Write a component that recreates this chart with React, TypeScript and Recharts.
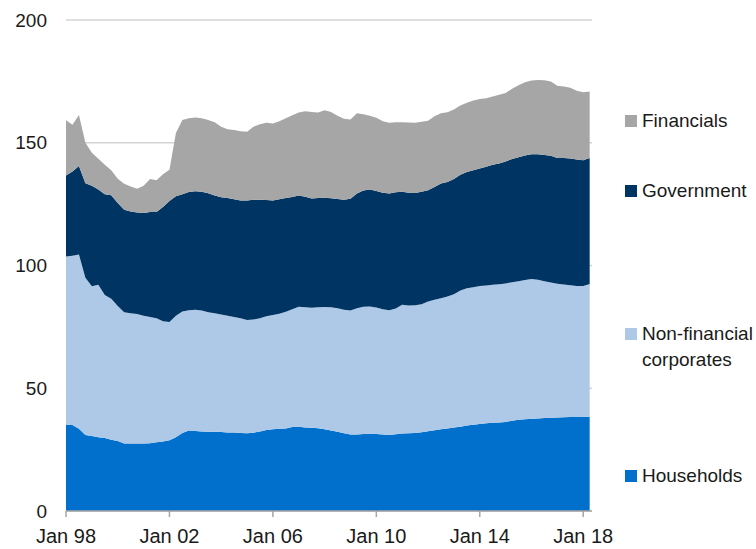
import React from "react";
import { AreaChart, Area, XAxis, YAxis, CartesianGrid } from "recharts";

// quarterly, Q1 1998 .. Q2 2018
const startYear = 1998;

const households = [
  35, 35, 33.5, 31, 30.5, 30, 29.7, 29, 28.5, 27.5,
  27.5, 27.5, 27.5, 27.6, 28, 28.3, 28.8, 30, 31.8, 32.8,
  32.6, 32.4, 32.3, 32.3, 32.2, 32, 32, 31.8, 31.7, 31.9,
  32.4, 33, 33.3, 33.5, 33.6, 34.2, 34.3, 34, 33.9, 33.7,
  33.3, 32.8, 32.3, 31.7, 31.2, 31.2, 31.4, 31.5, 31.4, 31.2,
  31, 31.3, 31.6, 31.7, 31.8, 32.1, 32.5, 32.9, 33.3, 33.6,
  34, 34.3, 34.8, 35.1, 35.4, 35.7, 35.9, 36.1, 36.3, 36.8,
  37.2, 37.4, 37.6, 37.7, 37.9, 38, 38.1, 38.2, 38.3, 38.3,
  38.3, 38.4,
];

const nonFinancial = [
  68.7, 69, 71, 64, 61, 62.2, 58.3, 57.5, 55, 53.5,
  53, 52.7, 52, 51.4, 50.5, 49, 48.2, 49.5, 49.5, 49,
  49.4, 49.3, 48.7, 48.2, 47.8, 47.5, 47, 46.7, 46.1, 46.1,
  46.1, 46.3, 46.5, 46.8, 47.6, 48, 48.9, 49, 48.9, 49.3,
  49.8, 50.2, 50.3, 50.3, 50.5, 51.4, 51.8, 51.8, 51.5, 51,
  50.8, 51.2, 52.4, 52, 52, 52.1, 52.8, 53.1, 53.4, 53.8,
  54.3, 55.5, 55.9, 56, 56.2, 56.2, 56.3, 56.3, 56.4, 56.4,
  56.4, 56.7, 56.9, 56.5, 55.7, 55.1, 54.5, 54.1, 53.7, 53.4,
  53.4, 54.1,
];

const government = [
  33, 34.3, 36, 38.5, 41, 38.8, 41, 42.1, 42, 41.7,
  41.5, 41.4, 41.9, 42.8, 43.3, 46.5, 49.3, 48.7, 47.7, 48.1,
  48.2, 48.3, 48.4, 48, 47.8, 48, 48, 48, 48.7, 48.8,
  48.3, 47.4, 46.7, 46.7, 46.3, 45.7, 45.3, 45, 44.5, 44.5,
  44.5, 44.4, 44.5, 44.8, 45.5, 46.7, 47.4, 47.7, 47.4, 47.4,
  47.5, 47.3, 46, 45.9, 45.7, 45.8, 45.4, 46, 46.7, 46.6,
  46.9, 47.2, 47.4, 47.7, 47.9, 48.3, 48.8, 49.1, 49.7, 50.2,
  50.5, 50.7, 50.8, 51.1, 51.4, 51.6, 51.2, 51.5, 51.6, 51.5,
  51.2, 51.3,
];

const financials = [
  22.5, 19, 20.8, 16.5, 13.4, 12.5, 12, 10.2, 9.8, 10.6,
  10.2, 9.7, 11.1, 13.4, 12.9, 13.4, 12.7, 25.8, 30.3, 30.1,
  30.1, 30, 29.9, 29.8, 28.7, 28, 28.2, 28.2, 28, 29.7,
  30.7, 31.4, 31.3, 31.8, 32.5, 33.3, 33.8, 34.8, 35.2, 34.8,
  35.6, 35.1, 33.9, 33, 32.3, 32.7, 31, 30, 29.9, 29.2,
  28.8, 28.5, 28.3, 28.6, 28.6, 28.6, 28.3, 28.8, 28.6, 28.4,
  28.3, 28.2, 28.2, 28.4, 28.3, 27.9, 27.8, 28.1, 27.9, 28.6,
  29.3, 29.8, 30.1, 30.3, 30.5, 30.2, 29.4, 29.1, 28.8, 28,
  27.7, 27.1,
];

const xTicks = [1998, 2002, 2006, 2010, 2014, 2018];
const yTicks = [0, 50, 100, 150, 200];

const COLORS = {
  households: "#0070cc",
  nonFinancial: "#aec8e8",
  government: "#003462",
  financials: "#a6a6a6",
};

const data = households.map((h, i) => ({
  t: startYear + i / 4,
  households: h,
  nonFinancial: nonFinancial[i],
  government: government[i],
  financials: financials[i],
}));

const FONT = "'Liberation Sans', Arial, Helvetica, sans-serif";

const legendItems = [
  { key: "financials", lines: ["Financials"], top: 108 },
  { key: "government", lines: ["Government"], top: 178 },
  { key: "nonFinancial", lines: ["Non-financial", "corporates"], top: 321 },
  { key: "households", lines: ["Households"], top: 463 },
];

export default function App() {
  return (
    <div style={{ position: "relative", width: 756, height: 549, fontFamily: FONT }}>
      <style>{"body { margin: 0; }"}</style>
      <div style={{ position: "absolute", left: 8, top: 8 }}>
        <AreaChart
          width={740}
          height={541}
          data={data}
          margin={{ top: 12, right: 156, left: 0, bottom: 0 }}
          style={{ fontFamily: FONT }}
        >
          <CartesianGrid vertical={false} stroke="#d4d4d4" strokeWidth={1.5} />
          <XAxis
            dataKey="t"
            type="number"
            domain={[1998, 2018.34]}
            ticks={xTicks}
            interval={0}
            height={38}
            tickFormatter={(v: number) => "Jan " + String(v).slice(2)}
            tick={{ fill: "#1a1a1a", fontSize: 20 }}
            axisLine={{ stroke: "#a6a6a6", strokeWidth: 1.5 }}
            tickLine={{ stroke: "#a6a6a6", strokeWidth: 1.5 }}
            tickSize={6}
            tickMargin={12}
          />
          <YAxis
            domain={[0, 200]}
            ticks={yTicks}
            width={58}
            axisLine={false}
            tickLine={false}
            tickSize={0}
            tickMargin={19}
            tick={{ fill: "#1a1a1a", fontSize: 19 }}
          />
          <Area type="linear" dataKey="households" stackId="1" stroke="none" fill={COLORS.households} fillOpacity={1} isAnimationActive={false} />
          <Area type="linear" dataKey="nonFinancial" stackId="1" stroke="none" fill={COLORS.nonFinancial} fillOpacity={1} isAnimationActive={false} />
          <Area type="linear" dataKey="government" stackId="1" stroke="none" fill={COLORS.government} fillOpacity={1} isAnimationActive={false} />
          <Area type="linear" dataKey="financials" stackId="1" stroke="none" fill={COLORS.financials} fillOpacity={1} isAnimationActive={false} />
        </AreaChart>
      </div>

      {/* legend, to the right of the plot */}
      {legendItems.map((item) => (
        <div
          key={item.key}
          style={{ position: "absolute", left: 625, top: item.top, fontSize: 19, lineHeight: "26px", color: "#1a1a1a" }}
        >
          <span
            style={{
              position: "absolute",
              left: 0,
              top: 7,
              width: 12,
              height: 12,
              background: COLORS[item.key as keyof typeof COLORS],
            }}
          />
          <div style={{ marginLeft: 17, whiteSpace: "nowrap" }}>
            {item.lines.map((l) => (
              <div key={l}>{l}</div>
            ))}
          </div>
        </div>
      ))}
    </div>
  );
}
